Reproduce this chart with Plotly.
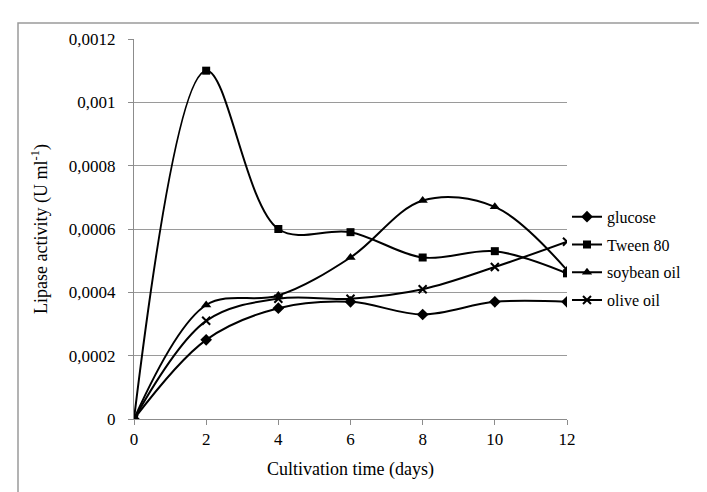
import plotly.graph_objects as go

days = [0, 2, 4, 6, 8, 10, 12]
glucose = [0, 0.00025, 0.00035, 0.00037, 0.00033, 0.00037, 0.00037]
tween80 = [0, 0.0011, 0.0006, 0.00059, 0.00051, 0.00053, 0.00046]
soybean_oil = [0, 0.00036, 0.00039, 0.00051, 0.00069, 0.00067, 0.00047]
olive_oil = [0, 0.00031, 0.00038, 0.00038, 0.00041, 0.00048, 0.00056]

y_tickvals = [0, 0.0002, 0.0004, 0.0006, 0.0008, 0.001, 0.0012]
y_ticktext = ["0", "0,0002", "0,0004", "0,0006", "0,0008", "0,001", "0,0012"]
x_tickvals = [0, 2, 4, 6, 8, 10, 12]

series = [
    ("glucose", glucose, "diamond", 9, 0),
    ("Tween 80", tween80, "square", 8, 0),
    ("soybean oil", soybean_oil, "triangle-up", 9, 0),
    ("olive oil", olive_oil, "x-thin-open", 8, 2),
]

FONT = "Liberation Serif, Times New Roman, serif"

fig = go.Figure()
for i, (name, vals, sym, size, lw) in enumerate(series):
    fig.add_trace(go.Scatter(
        x=days, y=vals, name=name, mode="lines+markers",
        line=dict(color="black", width=2, shape="spline", smoothing=1.0),
        marker=dict(symbol=sym, size=size, color="black",
                    line=dict(color="black", width=lw)),
        legendgroup=f"g{i}",
    ))

fig.update_layout(
    width=707, height=492,
    margin=dict(l=126, r=148, t=31, b=81),
    paper_bgcolor="white", plot_bgcolor="white",
    font=dict(family=FONT, size=17, color="black"),
    showlegend=True,
    legend=dict(x=1.0, y=0.577, xanchor="left", yanchor="top",
                font=dict(family=FONT, size=16, color="black"),
                bgcolor="rgba(0,0,0,0)", tracegroupgap=4,
                traceorder="grouped", itemwidth=30),
    xaxis=dict(
        range=[0, 12], tickvals=x_tickvals,
        showgrid=False, zeroline=False,
        showline=True, linecolor="#8c8c8c", linewidth=1,
        ticks="outside", ticklen=5, tickcolor="#8c8c8c",
        tickfont=dict(family=FONT, size=17),
        title=dict(text="Cultivation time (days)", font=dict(family=FONT, size=18), standoff=13),
    ),
    yaxis=dict(
        range=[0, 0.0012], tickvals=y_tickvals, ticktext=y_ticktext,
        showgrid=True, gridcolor="#9a9a9a", gridwidth=1, zeroline=False,
        showline=True, linecolor="#8c8c8c", linewidth=1,
        ticks="outside", ticklen=5, tickcolor="#8c8c8c",
        tickfont=dict(family=FONT, size=17),
        ticklabelstandoff=9,
        title=dict(text="Lipase activity (U ml<sup>-1</sup>)", font=dict(family=FONT, size=18), standoff=16),
    ),
    shapes=[dict(type="rect", xref="paper", yref="paper",
                 x0=(10 - 126) / 433, x1=1.5, y0=-0.5, y1=(411 - 15) / 380,
                 line=dict(color="#9a9a9a", width=1.5), fillcolor="rgba(0,0,0,0)",
                 layer="below")],
)

fig.write_html("out.html")
